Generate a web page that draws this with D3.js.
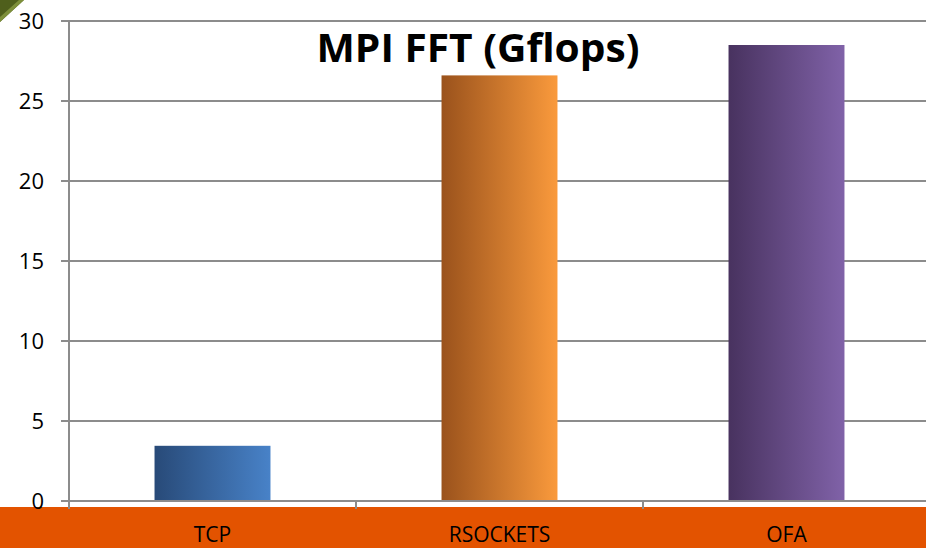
<!DOCTYPE html>
<html>
<head>
<meta charset="utf-8">
<script src="https://cdn.jsdelivr.net/npm/d3@7"></script>
<style>
  html, body { margin: 0; padding: 0; background: #fff; overflow: hidden; }
  svg { display: block; }
</style>
</head>
<body>
<svg id="chart" width="926" height="548"></svg>
<script>
// Chart data
const categories = ["TCP", "RSOCKETS", "OFA"];
const values = [3.45, 26.6, 28.5];
const yTicks = [0, 5, 10, 15, 20, 25, 30];
const title = "MPI FFT (Gflops)";
const gradientStops = [
  ["#284a78", "#4882c8"],
  ["#9a521c", "#fa9a3c"],
  ["#48325f", "#8062a8"]
];

const svg = d3.select("#chart");
const W = 926, H = 548;
const plotLeft = 69, plotTop = 21, plotBottom = 501;
const step = 287;
const plotRight = plotLeft + step * categories.length;

// Orange footer band behind the category labels
svg.append("rect")
  .attr("x", 0).attr("y", 507).attr("width", W).attr("height", H - 507)
  .attr("fill", "#e35300");

// Green corner decoration
svg.append("path")
  .attr("d", "M0,0 L24,0 L0,22 Z")
  .attr("fill", "#4f5f1c");
svg.append("path")
  .attr("d", "M19,0 L24,0 L0,22 L0,17 Z")
  .attr("fill", "#7d8f3a");

const x = d3.scaleBand().domain(categories).range([plotLeft, plotRight]).paddingInner(0.596).paddingOuter(0.298);
const y = d3.scaleLinear().domain([0, 30]).range([plotBottom, plotTop]);

// Gradients for each bar
const defs = svg.append("defs");
categories.forEach((c, i) => {
  const g = defs.append("linearGradient").attr("id", "grad" + i)
    .attr("x1", "0%").attr("x2", "100%").attr("y1", "0%").attr("y2", "0%");
  g.append("stop").attr("offset", "0%").attr("stop-color", gradientStops[i][0]);
  g.append("stop").attr("offset", "100%").attr("stop-color", gradientStops[i][1]);
});

// Horizontal gridlines with outward ticks
svg.append("g").selectAll("line").data(yTicks.filter(t => t > 0)).join("line")
  .attr("x1", plotLeft - 8).attr("x2", W)
  .attr("y1", d => y(d)).attr("y2", d => y(d))
  .attr("stroke", "#8c8c8c").attr("stroke-width", 2);

// Bars
svg.append("g").selectAll("rect").data(values).join("rect")
  .attr("x", (d, i) => x(categories[i]))
  .attr("width", x.bandwidth())
  .attr("y", d => y(d))
  .attr("height", d => y(0) - y(d))
  .attr("fill", (d, i) => `url(#grad${i})`);

// Vertical value axis
svg.append("line")
  .attr("x1", plotLeft).attr("x2", plotLeft).attr("y1", plotTop).attr("y2", plotBottom + 8)
  .attr("stroke", "#8c8c8c").attr("stroke-width", 2);

// Category axis baseline and tick marks
svg.append("line")
  .attr("x1", plotLeft - 8).attr("x2", W).attr("y1", y(0)).attr("y2", y(0))
  .attr("stroke", "#8c8c8c").attr("stroke-width", 2);
svg.append("g").selectAll("line").data(d3.range(categories.length + 1)).join("line")
  .attr("x1", i => plotLeft + i * step).attr("x2", i => plotLeft + i * step)
  .attr("y1", y(0)).attr("y2", y(0) + 8)
  .attr("stroke", "#8c8c8c").attr("stroke-width", 2);

// Value tick labels
svg.append("g").selectAll("text").data(yTicks).join("text")
  .attr("x", 44).attr("y", d => y(d) + 8)
  .attr("text-anchor", "end")
  .attr("font-family", "Open Sans, sans-serif")
  .attr("font-size", 22)
  .attr("fill", "#000")
  .text(d => d);

// Category labels
svg.append("g").selectAll("text").data(categories).join("text")
  .attr("x", d => x(d) + x.bandwidth() / 2).attr("y", 542)
  .attr("text-anchor", "middle")
  .attr("font-family", "Open Sans, sans-serif")
  .attr("font-size", 21)
  .attr("fill", "#000")
  .text(d => d);

// Title
svg.append("text")
  .attr("x", 478).attr("y", 62)
  .attr("text-anchor", "middle")
  .attr("font-family", "Open Sans, sans-serif")
  .attr("font-weight", "bold")
  .attr("font-size", 40)
  .attr("textLength", 323)
  .attr("lengthAdjust", "spacingAndGlyphs")
  .attr("fill", "#000")
  .text(title);
</script>
</body>
</html>
